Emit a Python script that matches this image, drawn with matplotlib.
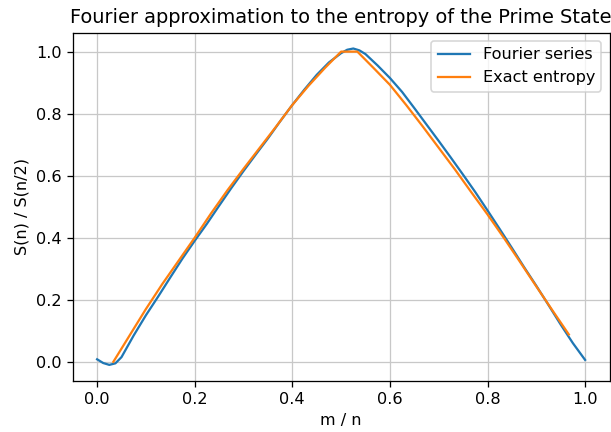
import matplotlib
matplotlib.use("Agg")
import matplotlib.pyplot as plt

# Fourier series approximation (blue)
fourier_x = [0.0, 0.0125, 0.025, 0.0375, 0.05, 0.0625, 0.075, 0.1, 0.125, 0.15, 0.175,
             0.2, 0.225, 0.25, 0.275, 0.3, 0.325, 0.35, 0.375, 0.4, 0.425,
             0.45, 0.475, 0.5, 0.5125, 0.525, 0.5375, 0.55, 0.575, 0.6, 0.625, 0.65, 0.675,
             0.7, 0.725, 0.75, 0.775, 0.8, 0.825, 0.85, 0.875, 0.9, 0.925,
             0.95, 0.975, 1.0]
fourier_y = [0.008, -0.004, -0.010, -0.005, 0.015, 0.05, 0.085, 0.15, 0.21, 0.272, 0.333,
             0.39, 0.445, 0.503, 0.56, 0.615, 0.668, 0.72, 0.775, 0.828, 0.878,
             0.925, 0.965, 0.995, 1.006, 1.01, 1.004, 0.992, 0.955, 0.915, 0.87, 0.818, 0.765,
             0.712, 0.658, 0.603, 0.547, 0.488, 0.428, 0.367, 0.305, 0.245, 0.183,
             0.12, 0.06, 0.006]

# Exact entropy (orange), m = 1..29, n = 30
n_sites = 30
exact_m = list(range(1, 30))
exact_y = [0.0, 0.085, 0.17, 0.25, 0.325, 0.40, 0.478, 0.552, 0.622, 0.69,
           0.758, 0.828, 0.89, 0.947, 1.0, 1.0, 0.947, 0.893, 0.828, 0.76,
           0.69, 0.62, 0.547, 0.475, 0.40, 0.322, 0.243, 0.165, 0.088]
exact_x = [m / n_sites for m in exact_m]

DPI = 116
fig = plt.figure(figsize=(611 / DPI, 432 / DPI), dpi=DPI)
ax = fig.add_axes([72.7 / 611, (432 - 380.7) / 432, (609.5 - 72.7) / 611, (380.7 - 32.7) / 432])

ax.plot(fourier_x, fourier_y, label="Fourier series", linewidth=1.4)
ax.plot(exact_x, exact_y, label="Exact entropy", linewidth=1.4)
ax.grid(True, color="#c8c8c8")
ax.set_title("Fourier approximation to the entropy of the Prime State")
ax.set_xlabel("m / n")
ax.set_ylabel("S(n) / S(n/2)")
ax.legend(loc="upper right")

fig.savefig("out.png", dpi=DPI)
